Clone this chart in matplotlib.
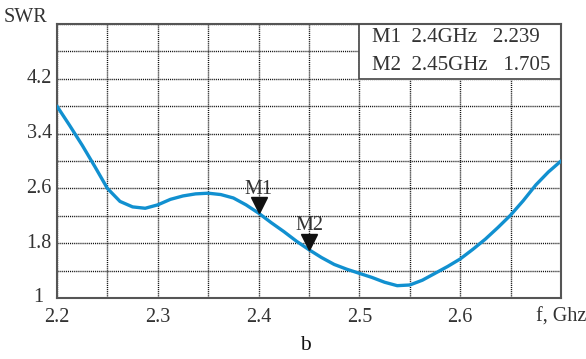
import matplotlib
matplotlib.use("Agg")
import matplotlib.pyplot as plt
from matplotlib.transforms import offset_copy

freq = [2.2, 2.2125, 2.225, 2.2375, 2.25, 2.2625, 2.275, 2.2875, 2.3, 2.3125,
        2.325, 2.3375, 2.35, 2.3625, 2.375, 2.3875, 2.4, 2.4125, 2.425, 2.4375,
        2.45, 2.4625, 2.475, 2.4875, 2.5, 2.5125, 2.525, 2.5375, 2.55, 2.5625,
        2.575, 2.5875, 2.6, 2.6125, 2.625, 2.6375, 2.65, 2.6625, 2.675, 2.6875, 2.7]
swr = [3.80, 3.52, 3.23, 2.92, 2.60, 2.41, 2.33, 2.31, 2.36, 2.44,
       2.49, 2.52, 2.53, 2.51, 2.46, 2.36, 2.239, 2.10, 1.97, 1.83,
       1.705, 1.59, 1.49, 1.42, 1.36, 1.30, 1.23, 1.18, 1.19, 1.26,
       1.36, 1.46, 1.57, 1.71, 1.86, 2.03, 2.21, 2.42, 2.65, 2.84, 3.0]

marker_names = ["M1", "M2"]
marker_freq = [2.4, 2.45]
marker_swr = [2.239, 1.705]
marker_freq_labels = ["2.4GHz", "2.45GHz"]

xticks = [2.2, 2.3, 2.4, 2.5, 2.6]
yticks = [1, 1.8, 2.6, 3.4, 4.2]

plt.rcParams['font.family'] = ['Liberation Serif', 'DejaVu Serif']

fig = plt.figure(figsize=(5.86, 3.59), dpi=100)
ax = fig.add_axes([57/586, 1-298/359, (561-57)/586, (298-24)/359])

ax.set_xlim(2.2, 2.7)
ax.set_ylim(1, 5)
ax.set_xticks([2.2 + 0.05*i for i in range(11)])
ax.set_yticks([1 + 0.4*i for i in range(11)])
ax.grid(True, color='#111111', linestyle=(0, (0.8, 0.7)), linewidth=1.0)
ax.tick_params(length=0, labelbottom=False, labelleft=False)
for s in ax.spines.values():
    s.set_color('#555555')
    s.set_linewidth(1.5)

ax.plot(freq, swr, color='#1190d0', linewidth=2.4, solid_capstyle='round',
        solid_joinstyle='round', zorder=3)

txtc = '#333333'
fs = 14.5
for x in xticks:
    ax.text(x, -0.035, f"{x:.1f}", transform=ax.get_xaxis_transform(),
            ha='center', va='top', fontsize=fs, color=txtc)
ax.text(2.7, -0.035, "f, Ghz", transform=ax.get_xaxis_transform(),
        ha='center', va='top', fontsize=fs, color=txtc)
for y in yticks:
    if y == 1:
        ax.text(-0.027, 1.0, "1", transform=ax.get_yaxis_transform(), ha='right',
                va='center', fontsize=fs, color=txtc)
    else:
        ax.text(-0.01, y, f"{y:.1f}", transform=ax.get_yaxis_transform(), ha='right',
                va='center', fontsize=fs, color=txtc)
fig.text(4/586, 1-17/359, "SWR", ha='left', va='center', fontsize=fs, color=txtc)
fig.text(305/586, 1-345/359, "b", ha='center', va='center', fontsize=fs + 1, color='#111111')
fig.text(310/586, 1-2/359, "a", ha='center', va='bottom', fontsize=fs, color='#111111')

tri_tr = offset_copy(ax.transData, fig=fig, y=5.5, units='points')
lab_tr = offset_copy(ax.transData, fig=fig, y=10.5, units='points')
for name, mx, my in zip(marker_names, marker_freq, marker_swr):
    ax.plot([mx], [my], marker='v', markersize=11, color='#111111',
            linestyle='none', transform=tri_tr, zorder=4)
    ax.text(mx, my, name, transform=lab_tr, ha='center', va='bottom',
            fontsize=fs, color=txtc, zorder=4)

# marker table box
ax.fill_between([2.5, 2.7], [4.2, 4.2], [5, 5], color='white', zorder=2.5)
ax.plot([2.5, 2.5, 2.7], [5, 4.2, 4.2], color='#444444', linewidth=1.2, zorder=2.6)
rows_y = [4.80, 4.40]
for name, fl, val, ry in zip(marker_names, marker_freq_labels, marker_swr, rows_y):
    ax.text(2.5125, ry, f"{name}  {fl}   {val:.3f}", ha='left', va='center',
            fontsize=fs + 0.5, color=txtc, zorder=3)

fig.savefig("out.png", dpi=100)
